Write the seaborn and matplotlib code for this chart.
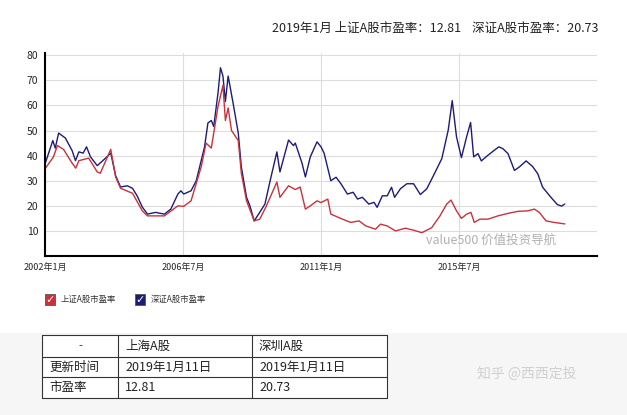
import numpy as np
import pandas as pd
import matplotlib.pyplot as plt
import seaborn as sns
from matplotlib.patches import Rectangle

sns.set_style('white')
plt.rcParams['font.family'] = ['Noto Sans CJK SC', 'DejaVu Sans']

# Shenzhen A-share PE (year, value)
sz_year = [2002.0, 2002.25, 2002.33, 2002.44, 2002.66, 2002.88, 2002.99, 2003.1, 2003.24, 2003.35,
           2003.48, 2003.7, 2003.97, 2004.14, 2004.3, 2004.46, 2004.68, 2004.85, 2005.0, 2005.17,
           2005.34, 2005.6, 2005.89, 2006.1, 2006.33, 2006.43, 2006.52, 2006.76, 2006.93, 2007.09,
           2007.2, 2007.31, 2007.42, 2007.5, 2007.64, 2007.72, 2007.8, 2007.88, 2007.97, 2008.13,
           2008.3, 2008.4, 2008.57, 2008.68, 2008.82, 2009.0, 2009.17, 2009.34, 2009.56, 2009.66,
           2009.94, 2010.1, 2010.16, 2010.38, 2010.49, 2010.65, 2010.87, 2011.0, 2011.1, 2011.32,
           2011.49, 2011.65, 2011.86, 2012.05, 2012.19, 2012.35, 2012.56, 2012.73, 2012.83, 2013.0,
           2013.16, 2013.3, 2013.4, 2013.59, 2013.8, 2014.02, 2014.24, 2014.45, 2014.67, 2014.94,
           2015.15, 2015.28, 2015.42, 2015.58, 2015.75, 2015.88, 2015.98, 2016.12, 2016.23, 2016.45,
           2016.66, 2016.8, 2016.93, 2017.1, 2017.31, 2017.47, 2017.69, 2017.9, 2018.07, 2018.23,
           2018.5, 2018.71, 2018.85, 2018.95]
sz_pe = [36.8, 46, 43, 49, 47, 42, 38, 41.5, 41, 43.5,
         39.5, 36, 39, 41, 32, 27.5, 28, 27, 24, 19.5,
         16.7, 17.4, 16.7, 18.7, 24.7, 26, 24.7, 26, 30, 38,
         43.5, 53, 54, 51.6, 65, 75, 71.7, 61.6, 71.7, 61,
         49, 35.5, 23.4, 20, 14, 17.4, 20.7, 30, 41.5, 33.5,
         46.2, 44, 45, 37, 31.5, 39.5, 45.5, 43.5, 41, 30,
         31.4, 28.8, 24.7, 25.4, 22.7, 23.4, 20.7, 21.4, 19.4, 24,
         24, 27.4, 23.4, 26.8, 28.8, 28.8, 24.5, 26.8, 32.1, 38.8,
         50.2, 61.9, 47.5, 39.2, 47.5, 53.2, 39.5, 40.8, 37.9, 40.2,
         42.2, 43.5, 42.8, 40.8, 34.1, 35.5, 37.9, 35.7, 32.8, 27.4,
         23.4, 20.5, 19.9, 20.73]

# Shanghai A-share PE (year, value)
sh_year = [2002.0, 2002.27, 2002.4, 2002.6, 2002.88, 2003.0, 2003.1, 2003.42, 2003.7, 2003.8,
           2004.14, 2004.3, 2004.46, 2004.85, 2005.17, 2005.34, 2005.89, 2006.33, 2006.52, 2006.76,
           2007.09, 2007.25, 2007.42, 2007.64, 2007.8, 2007.88, 2007.97, 2008.08, 2008.3, 2008.4,
           2008.57, 2008.82, 2009.0, 2009.2, 2009.56, 2009.66, 2009.94, 2010.16, 2010.32, 2010.49,
           2010.65, 2010.87, 2011.0, 2011.22, 2011.32, 2011.7, 2011.97, 2012.24, 2012.46, 2012.78,
           2012.94, 2013.16, 2013.43, 2013.75, 2014.02, 2014.29, 2014.61, 2014.88, 2015.1, 2015.24,
           2015.42, 2015.58, 2015.75, 2015.89, 2016.0, 2016.18, 2016.45, 2016.77, 2017.1, 2017.42,
           2017.74, 2017.96, 2018.12, 2018.34, 2018.6, 2018.95]
sh_pe = [34.8, 39.5, 44, 42.5, 37, 35, 38, 39, 33.5, 33,
         42.5, 31.5, 27, 25, 18, 16, 16, 20, 19.8, 22,
         35.5, 45, 43, 59.6, 68, 54, 59, 50, 46, 33,
         22, 14, 14.7, 19.5, 29.5, 23.4, 28, 26.5, 27.5, 18.7,
         20, 22, 21.3, 22.7, 16.7, 14.7, 13.4, 14, 12, 10.7,
         12.7, 12, 10, 11.1, 10.3, 9.3, 11.3, 16, 20.7, 22.3,
         18, 15, 16.7, 17.4, 13.4, 14.7, 14.7, 16, 17, 17.8,
         18, 18.7, 17.4, 14, 13.4, 12.81]

tick_years = [2002.0, 2006.5, 2011.0, 2015.5]
tick_labels = ['2002年1月', '2006年7月', '2011年1月', '2015年7月']
legend_labels = ['上证A股市盈率', '深证A股市盈率']
table_rows = [['-', '上海A股', '深圳A股'],
              ['更新时间', '2019年1月11日', '2019年1月11日'],
              ['市盈率', '12.81', '20.73']]

red = '#c8323a'
blue = '#1c1c78'

fig = plt.figure(figsize=(6.27, 4.15), dpi=100)
fig.patch.set_facecolor('white')
# grey band behind the table
fig.patches.append(Rectangle((0, 0), 1, 82 / 415, transform=fig.transFigure,
                             facecolor='#f6f6f6', edgecolor='none', zorder=0))

ax = fig.add_axes([0.072, 0.383, 0.88, 0.49])
df_sz = pd.DataFrame({'year': sz_year, 'pe': sz_pe})
df_sh = pd.DataFrame({'year': sh_year, 'pe': sh_pe})
sns.lineplot(data=df_sz, x='year', y='pe', color=blue, lw=1.0, ax=ax)
sns.lineplot(data=df_sh, x='year', y='pe', color=red, lw=1.0, ax=ax)

ax.set_xlim(2002.0, 2020.0)
ax.set_ylim(0, 81)
ax.set_yticks(range(10, 90, 10))
ax.set_xticks(tick_years)
ax.set_xticklabels(tick_labels)
ax.set_xlabel('')
ax.set_ylabel('')
ax.tick_params(axis='both', labelsize=6.5, length=3, width=1, color='black', pad=2)
ax.tick_params(axis='y', labelsize=7.5)
ax.grid(True, color='#dddddd', lw=0.8)
for s in ['top', 'right']:
    ax.spines[s].set_visible(False)
for s in ['left', 'bottom']:
    ax.spines[s].set_color('black')
    ax.spines[s].set_linewidth(1.5)
ax.text(0.69, 0.06, 'value500 价值投资导航', transform=ax.transAxes,
        fontsize=9, color='#b0b0b0')

fig.text(0.955, 0.932, '2019年1月 上证A股市盈率：12.81    深证A股市盈率：20.73',
         ha='right', va='center', fontsize=9, color='#222222')

# legend check boxes
for i, (lab, col) in enumerate(zip(legend_labels, [red, blue])):
    x0 = 45 + i * 90
    fig.patches.append(Rectangle((x0 / 627, 1 - 305 / 415), 10 / 627, 11 / 415,
                                 transform=fig.transFigure, facecolor=col, edgecolor='#444444', lw=0.5))
    fig.text((x0 + 5) / 627, 1 - 299.5 / 415, '✓', color='white', fontsize=8, ha='center', va='center',
             family=['DejaVu Sans'])
    fig.text((x0 + 16) / 627, 1 - 299.5 / 415, lab, fontsize=6, va='center', color='#333333')

# table
cols = [42, 118, 252, 387]
rows = [335, 357, 377, 398]
for y in rows:
    fig.add_artist(plt.Line2D([cols[0] / 627, cols[-1] / 627], [1 - y / 415] * 2, color='#333333', lw=0.8))
for x in cols:
    fig.add_artist(plt.Line2D([x / 627] * 2, [1 - rows[0] / 415, 1 - rows[-1] / 415], color='#333333', lw=0.8))
fig.patches.append(Rectangle((cols[0] / 627, 1 - rows[-1] / 415), (cols[-1] - cols[0]) / 627,
                             (rows[-1] - rows[0]) / 415, transform=fig.transFigure,
                             facecolor='white', edgecolor='none', zorder=0.5))
for r, row in enumerate(table_rows):
    yc = 1 - (rows[r] + rows[r + 1]) / 2 / 415
    for c, txt in enumerate(row):
        if c == 0 and r == 0:
            fig.text((cols[0] + cols[1]) / 2 / 627, yc, txt, ha='center', va='center', fontsize=8)
        else:
            fig.text((cols[c] + 7) / 627, yc, txt, ha='left', va='center', fontsize=9,
                     fontweight='medium' if (r == 0 or c == 0) else 'normal', color='#222222')

fig.text(0.76, 0.09, '知乎 @西西定投', fontsize=10, color='#d0d0d0')

fig.savefig('out.png', dpi=100)
